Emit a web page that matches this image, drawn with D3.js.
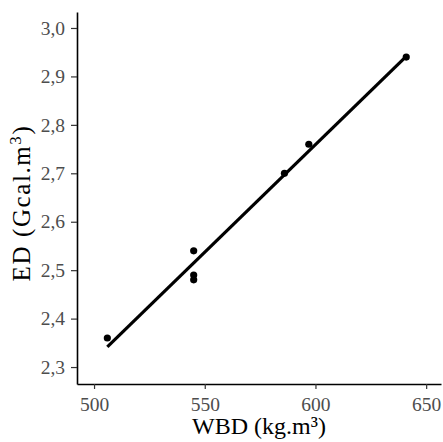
<!DOCTYPE html>
<html>
<head>
<meta charset="utf-8">
<script src="https://cdn.jsdelivr.net/npm/d3@7"></script>
<style>
  body { margin: 0; background: #fff; }
  svg { display: block; }
  text { font-family: "Liberation Serif", "Times New Roman", Times, serif; }
</style>
</head>
<body>
<div id="chart"></div>
<script>
// observed values
var wbd = [506, 545, 545, 545, 586, 597, 641];
var ed = [2.36, 2.54, 2.49, 2.48, 2.70, 2.76, 2.94];
var xTicks = [500, 550, 600, 650];
var yTicks = [2.3, 2.4, 2.5, 2.6, 2.7, 2.8, 2.9, 3.0];

var width = 443, height = 442;
var plotLeft = 77, plotRight = 441, plotTop = 12, plotBottom = 384;

var svg = d3.select('#chart')
  .append('svg')
    .attr('width', width)
    .attr('height', height);

var x = d3.scaleLinear().domain([492.3, 656.7]).range([plotLeft, plotRight]);
var y = d3.scaleLinear().domain([2.265, 3.033]).range([plotBottom, plotTop]);

var fmt = function(d) { return d3.format('.1f')(d).replace('.', ','); };

var xAxis = svg.append('g')
    .attr('transform', 'translate(0,' + plotBottom + ')')
    .call(d3.axisBottom(x).tickValues(xTicks).tickSize(5).tickPadding(8).tickSizeOuter(0));
var yAxis = svg.append('g')
    .attr('transform', 'translate(' + plotLeft + ',0)')
    .call(d3.axisLeft(y).tickValues(yTicks).tickFormat(fmt).tickSize(6).tickPadding(6).tickSizeOuter(0));

[xAxis, yAxis].forEach(function(g) {
  g.attr('font-family', null);
  g.select('.domain').attr('stroke', '#000').attr('stroke-width', 1.6);
  g.selectAll('.tick line').attr('stroke', '#333').attr('stroke-width', 1.2);
  g.selectAll('.tick text')
    .attr('fill', '#4d4d4d')
    .attr('font-size', 19.5);
});

// least squares fit
var mx = d3.mean(wbd), my = d3.mean(ed);
var sxy = d3.sum(wbd, function(v, i) { return (v - mx) * (ed[i] - my); });
var sxx = d3.sum(wbd, function(v) { return (v - mx) * (v - mx); });
var slope = sxy / sxx, icpt = my - slope * mx;
var xr = d3.extent(wbd);

svg.append('line')
  .attr('x1', x(xr[0])).attr('y1', y(icpt + slope * xr[0]))
  .attr('x2', x(xr[1])).attr('y2', y(icpt + slope * xr[1]))
  .attr('stroke', '#000')
  .attr('stroke-width', 3.2);

svg.selectAll('circle.pt')
  .data(wbd)
  .enter().append('circle')
    .attr('class', 'pt')
    .attr('cx', function(d) { return x(d); })
    .attr('cy', function(d, i) { return y(ed[i]); })
    .attr('r', 3.6)
    .attr('fill', '#000');

svg.append('text')
  .attr('x', (plotLeft + plotRight) / 2)
  .attr('y', 434)
  .attr('text-anchor', 'middle')
  .attr('font-size', 24)
  .text('WBD (kg.m³)');

var yTitle = svg.append('text')
  .attr('transform', 'translate(30,203) rotate(-90)')
  .attr('text-anchor', 'middle')
  .attr('font-size', 25)
  .attr('letter-spacing', 1.6);
yTitle.append('tspan').text('ED (Gcal.m');
yTitle.append('tspan').attr('font-size', 17).attr('dy', -9).text('3');
yTitle.append('tspan').attr('dy', 9).text(')');
</script>
</body>
</html>
